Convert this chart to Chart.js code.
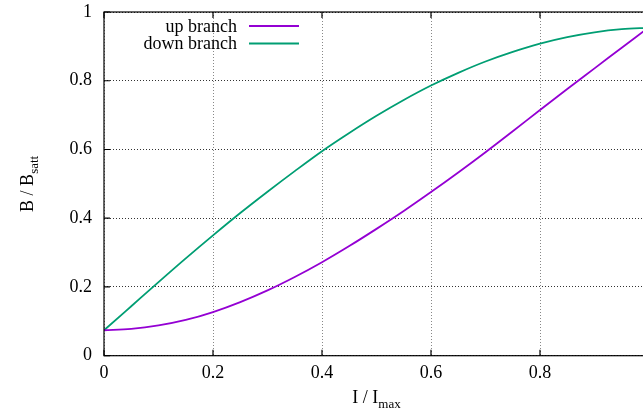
<!DOCTYPE html>
<html lang="en">
<head>
  <meta charset="UTF-8"/>
  <title>Hysteresis - B / Bsatt</title>
  <script src="https://cdn.jsdelivr.net/npm/chart.js"></script>
  <style>
    html, body { margin:0; padding:0; overflow:hidden; background:#fff; }
    .wrap { position:relative; width:660px; height:410px; }
  </style>
</head>
<body>
  <div class="wrap"><canvas id="loopChart"></canvas></div>
  <script>
    // values (I / Imax -> B / Bsatt)
    const currentSteps = [0, 0.05, 0.1, 0.15, 0.2, 0.25, 0.3, 0.35, 0.4, 0.45, 0.5,
                          0.55, 0.6, 0.65, 0.7, 0.75, 0.8, 0.85, 0.9, 0.95, 1.0];
    const upBranch   = [0.074, 0.078, 0.088, 0.104, 0.127, 0.156, 0.190, 0.229, 0.272, 0.319, 0.369,
                        0.421, 0.476, 0.533, 0.592, 0.653, 0.715, 0.776, 0.836, 0.896, 0.956];
    const downBranch = [0.074, 0.144, 0.214, 0.283, 0.350, 0.415, 0.477, 0.537, 0.595, 0.648, 0.698,
                        0.744, 0.786, 0.823, 0.856, 0.884, 0.908, 0.927, 0.941, 0.950, 0.954];
    const xTicks = [0, 0.2, 0.4, 0.6, 0.8, 1];
    const yTicks = [0, 0.2, 0.4, 0.6, 0.8, 1];
    const seriesNames = ["up branch", "down branch"];
    const seriesColors = ["#9400d3", "#009e73"];

    const FONT = "'Liberation Serif', 'Times New Roman', serif";

    function toPoints(ys) {
      return currentSteps.map((x, i) => ({ x: x, y: ys[i] }));
    }

    // frame, inward ticks, key and sub-scripted axis titles, gnuplot style
    const gnuplotBits = {
      id: 'gnuplotBits',
      afterDraw(chart) {
        const ctx = chart.ctx;
        const a = chart.chartArea;
        const xs = chart.scales.x, ys = chart.scales.y;
        ctx.save();
        ctx.strokeStyle = '#000';
        ctx.lineWidth = 1.2;
        ctx.strokeRect(a.left, a.top, a.right - a.left, a.bottom - a.top);
        ctx.beginPath();
        xTicks.forEach(v => {
          const px = xs.getPixelForValue(v);
          ctx.moveTo(px, a.bottom); ctx.lineTo(px, a.bottom - 6);
          ctx.moveTo(px, a.top); ctx.lineTo(px, a.top + 6);
        });
        yTicks.forEach(v => {
          const py = ys.getPixelForValue(v);
          ctx.moveTo(a.left, py); ctx.lineTo(a.left + 6, py);
          ctx.moveTo(a.right, py); ctx.lineTo(a.right - 6, py);
        });
        ctx.stroke();

        // key
        ctx.font = '18px ' + FONT;
        ctx.fillStyle = '#000';
        ctx.textAlign = 'right';
        ctx.textBaseline = 'alphabetic';
        chart.data.datasets.forEach((ds, i) => {
          const base = 31.5 + i * 17.6;
          ctx.fillText(ds.label, 237, base);
          ctx.strokeStyle = ds.borderColor;
          ctx.lineWidth = 2;
          ctx.beginPath();
          ctx.moveTo(249, base - 5.5); ctx.lineTo(299, base - 5.5);
          ctx.stroke();
        });

        // axis titles with subscripts
        function subText(main, sub, cx, cy, rot) {
          ctx.save();
          ctx.translate(cx, cy);
          ctx.rotate(rot);
          ctx.textAlign = 'left';
          ctx.font = '18px ' + FONT;
          const w1 = ctx.measureText(main).width;
          ctx.font = '13px ' + FONT;
          const w2 = ctx.measureText(sub).width;
          const x0 = -(w1 + w2) / 2;
          ctx.font = '18px ' + FONT;
          ctx.fillText(main, x0, 0);
          ctx.font = '13px ' + FONT;
          ctx.fillText(sub, x0 + w1, 5);
          ctx.restore();
        }
        subText('I / I', 'max', (a.left + a.right) / 2, 403, 0);
        subText('B / B', 'satt', 32.5, (a.top + a.bottom) / 2, -Math.PI / 2);
        ctx.restore();
      }
    };

    new Chart(document.getElementById('loopChart').getContext('2d'), {
      type: 'scatter',
      data: {
        datasets: [
          { label: seriesNames[0], data: toPoints(upBranch), showLine: true,
            borderColor: seriesColors[0], borderWidth: 1.8, pointRadius: 0,
            cubicInterpolationMode: 'monotone', fill: false },
          { label: seriesNames[1], data: toPoints(downBranch), showLine: true,
            borderColor: seriesColors[1], borderWidth: 1.8, pointRadius: 0,
            cubicInterpolationMode: 'monotone', fill: false }
        ]
      },
      options: {
        responsive: true,
        maintainAspectRatio: false,
        animation: false,
        events: [],
        layout: { padding: { left: 0, top: 12, right: 11, bottom: 0 } },
        plugins: { legend: { display: false }, tooltip: { enabled: false } },
        scales: {
          x: {
            type: 'linear', min: 0, max: 1,
            afterFit: s => { s.height = 54.3; s.paddingLeft = 0; s.paddingRight = 0; },
            afterBuildTicks: s => { s.ticks = xTicks.map(v => ({ value: v })); },
            ticks: { color: '#000', padding: 7, font: { family: FONT, size: 18 },
                     callback: v => String(v) },
            grid: { color: '#888', lineWidth: 1, drawTicks: false },
            border: { display: false, dash: [1, 2] }
          },
          y: {
            min: 0, max: 1,
            afterFit: s => { s.width = 104; s.paddingTop = 0; s.paddingBottom = 0; },
            afterBuildTicks: s => { s.ticks = yTicks.map(v => ({ value: v })); },
            ticks: { color: '#000', padding: 12, font: { family: FONT, size: 18 },
                     callback: v => String(v) },
            grid: { color: '#333', lineWidth: 1, drawTicks: false },
            border: { display: false, dash: [1, 2] }
          }
        }
      },
      plugins: [gnuplotBits]
    });
  </script>
</body>
</html>
